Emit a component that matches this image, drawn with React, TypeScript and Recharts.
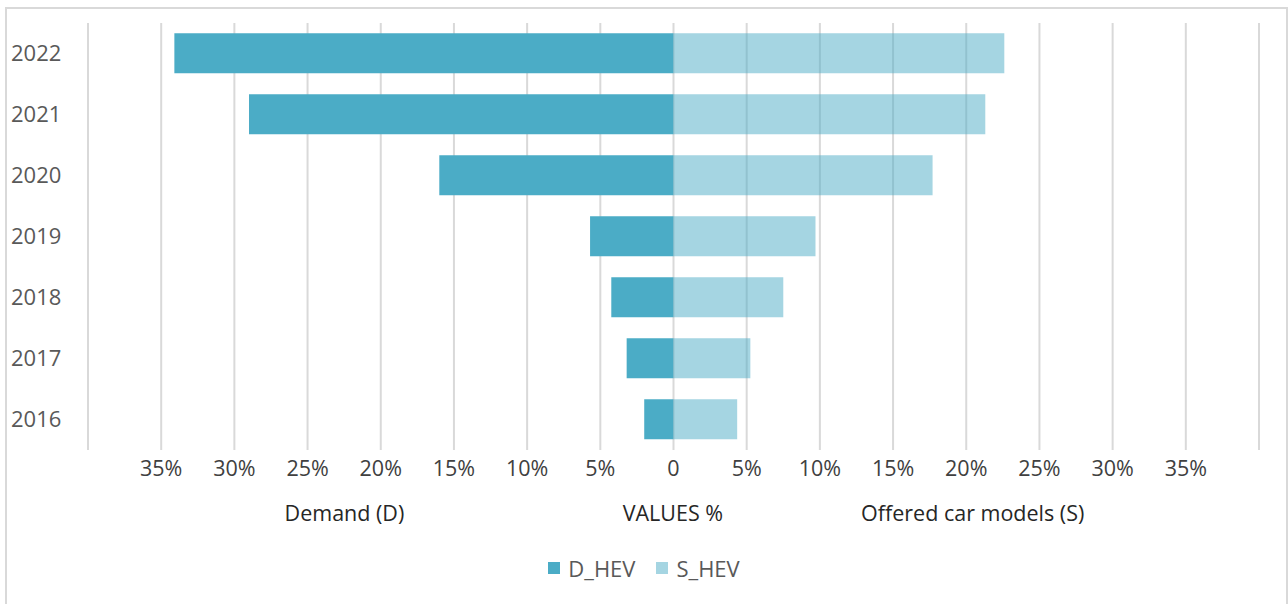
import { Bar, BarChart, CartesianGrid, Legend, XAxis, YAxis } from "recharts";

// ─── data ────────────────────────────────────────────────────────────────────
const YEARS = ["2022", "2021", "2020", "2019", "2018", "2017", "2016"];
const D_HEV = [34.1, 29.0, 16.0, 5.7, 4.25, 3.2, 2.0]; // demand, drawn to the left
const S_HEV = [22.6, 21.3, 17.7, 9.7, 7.5, 5.25, 4.35]; // offered models, to the right
const X_TICKS = [-40, -35, -30, -25, -20, -15, -10, -5, 0, 5, 10, 15, 20, 25, 30, 35, 40];

const DARK = "#4BACC6";
const LIGHT = "rgba(75,172,198,0.5)";
const FONT = "'Open Sans', sans-serif";

const data = YEARS.map((year, i) => ({ year, D_HEV: -D_HEV[i], S_HEV: S_HEV[i] }));

const fmtTick = (v: number) => (Math.abs(v) === 40 ? "" : v === 0 ? "0" : `${Math.abs(v)}%`);

const YearTick = ({ y, payload }: any) => (
  <text x={11} y={y} dy="0.36em" textAnchor="start" fontSize={22} fill="#595959" fontFamily={FONT}>
    {payload.value}
  </text>
);

const AxisTitles = ({ viewBox }: any) => {
  const { x, y, width } = viewBox;
  const base = y + 71;
  const style = { fontSize: 21.5, fill: "#262626", fontFamily: FONT };
  return (
    <g>
      <text x={x + width * 0.219} y={base} textAnchor="middle" {...style}>Demand (D)</text>
      <text x={x + width * 0.4995} y={base} textAnchor="middle" {...style}>VALUES %</text>
      <text x={x + width * 0.7555} y={base} textAnchor="middle" {...style}>Offered car models (S)</text>
    </g>
  );
};

const LegendBox = ({ payload }: any) => (
  <div style={{ display: "flex", justifyContent: "center", gap: 21, fontFamily: FONT, fontSize: 22, color: "#595959" }}>
    {(payload ?? []).map((p: any) => (
      <div key={p.value} style={{ display: "flex", alignItems: "center", gap: 8 }}>
        <span style={{ width: 12, height: 12, background: p.color, display: "inline-block" }} />
        <span>{p.value}</span>
      </div>
    ))}
  </div>
);

export default function App() {
  return (
    <div style={{ position: "absolute", left: 0, top: 0, width: 1288, height: 604, overflow: "hidden", background: "#fff" }}>
      <div style={{ position: "absolute", left: 5, top: 7, width: 1279, height: 640, border: "2px solid #D9D9D9" }} />
      <BarChart
        width={1288}
        height={604}
        data={data}
        layout="vertical"
        stackOffset="sign"
        barCategoryGap="17%"
        margin={{ top: 23, right: 29, bottom: 0, left: 0 }}
      >
        <CartesianGrid vertical horizontal={false} stroke="#D9D9D9" strokeWidth={2} />
        <XAxis
          type="number"
          domain={[-40, 40]}
          ticks={X_TICKS}
          interval={0}
          tickFormatter={fmtTick}
          axisLine={false}
          tickLine={false}
          tickMargin={5}
          height={154}
          tick={{ fontSize: 21.5, fill: "#404040", fontFamily: FONT }}
          label={<AxisTitles />}
        />
        <YAxis type="category" dataKey="year" width={88} axisLine={false} tickLine={false} tick={<YearTick />} />
        <Legend verticalAlign="middle" align="center" content={<LegendBox />} wrapperStyle={{ top: 553, left: 0, width: 1288 }} />
        <Bar dataKey="D_HEV" name="D_HEV" stackId="a" fill={DARK} isAnimationActive={false} />
        <Bar dataKey="S_HEV" name="S_HEV" stackId="a" fill={LIGHT} isAnimationActive={false} />
      </BarChart>
    </div>
  );
}
